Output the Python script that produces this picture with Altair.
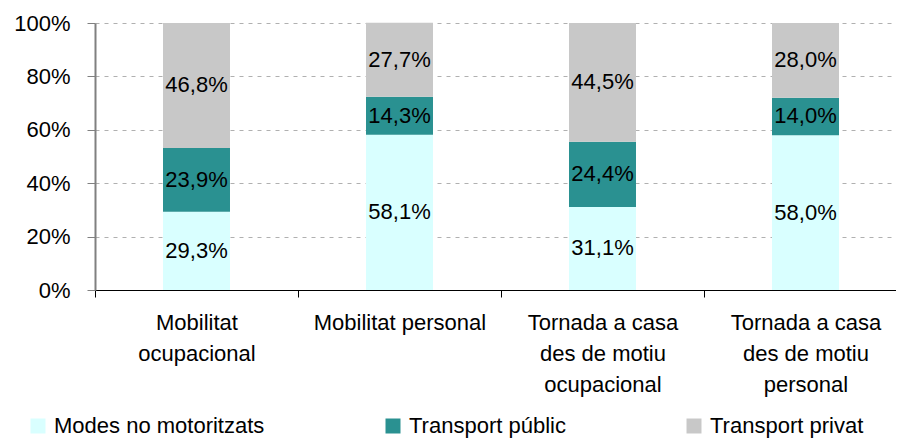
import altair as alt
import pandas as pd

categories = [
    "Mobilitat|ocupacional",
    "Mobilitat personal",
    "Tornada a casa|des de motiu|ocupacional",
    "Tornada a casa|des de motiu|personal",
]
series = ["Modes no motoritzats", "Transport públic", "Transport privat"]
modes_no_motoritzats = [29.3, 58.1, 31.1, 58.0]
transport_public = [23.9, 14.3, 24.4, 14.0]
transport_privat = [46.8, 27.7, 44.5, 28.0]
colors = ["#D9FFFF", "#2A9191", "#C8C8C8"]
y_ticks = [0, 0.2, 0.4, 0.6, 0.8, 1.0]

rows = []
cum = [0.0] * len(categories)
for s_i, (name, vals) in enumerate(zip(series, [modes_no_motoritzats, transport_public, transport_privat])):
    for c_i, (c, v) in enumerate(zip(categories, vals)):
        start = cum[c_i]
        cum[c_i] += v
        rows.append({
            "cat": c,
            "serie": name,
            "order": s_i,
            "value": v / 100,
            "mid": (start + v / 2) / 100,
            "label": f"{v:.1f}".replace(".", ",") + "%",
        })
df = pd.DataFrame(rows)

FONT = "Liberation Sans"

x_enc = alt.X(
    "cat:N",
    sort=categories,
    scale=alt.Scale(paddingInner=0, paddingOuter=0),
    axis=alt.Axis(
        title=None,
        labelAngle=0,
        labelExpr="split(datum.label, '|')",
        labelFont=FONT,
        labelFontSize=22,
        labelColor="black",
        labelLineHeight=31,
        labelPadding=15,
        labelLimit=300,
        tickBand="extent",
        tickSize=7,
        tickColor="black",
        domainColor="black",
        grid=False,
    ),
)

bars = alt.Chart(df).mark_bar(strokeWidth=0, width=alt.RelativeBandSize(0.33)).encode(
    x=x_enc,
    y=alt.Y(
        "value:Q",
        stack="zero",
        scale=alt.Scale(domain=[0, 1], nice=False),
        axis=alt.Axis(
            title=None,
            format=".0%",
            values=y_ticks,
            labelFont=FONT,
            labelFontSize=22,
            labelColor="black",
            labelPadding=17,
            tickSize=8,
            tickColor="#808080",
            domainColor="#808080",
            domainWidth=2,
            grid=True,
            gridColor="#b0b0b0",
            gridDash=[4, 5],
        ),
    ),
    color=alt.Color(
        "serie:N",
        sort=series,
        scale=alt.Scale(domain=series, range=colors),
        legend=alt.Legend(
            title=None,
            orient="none",
            legendX=-68,
            legendY=392,
            direction="horizontal",
            symbolType="square",
            symbolSize=225,
            symbolStrokeWidth=0,
            labelFont=FONT,
            labelFontSize=22,
            labelColor="black",
            labelOffset=5,
            columnPadding=117,
            labelLimit=400,
            padding=0,
        ),
    ),
    order=alt.Order("order:Q"),
)

labels = alt.Chart(df).mark_text(font=FONT, fontSize=22, color="black", baseline="middle").encode(
    x=alt.X("cat:N", sort=categories),
    y=alt.Y("mid:Q", stack=None),
    text="label:N",
)

chart = (
    alt.layer(bars, labels)
    .properties(
        width=812,
        height=267,
        autosize=alt.AutoSizeParams(type="none"),
        padding={"left": 87, "top": 15, "right": -11, "bottom": 148},
    )
    .configure_view(stroke=None)
)

chart.save("out.html", embed_options={"renderer": "svg", "actions": False})
